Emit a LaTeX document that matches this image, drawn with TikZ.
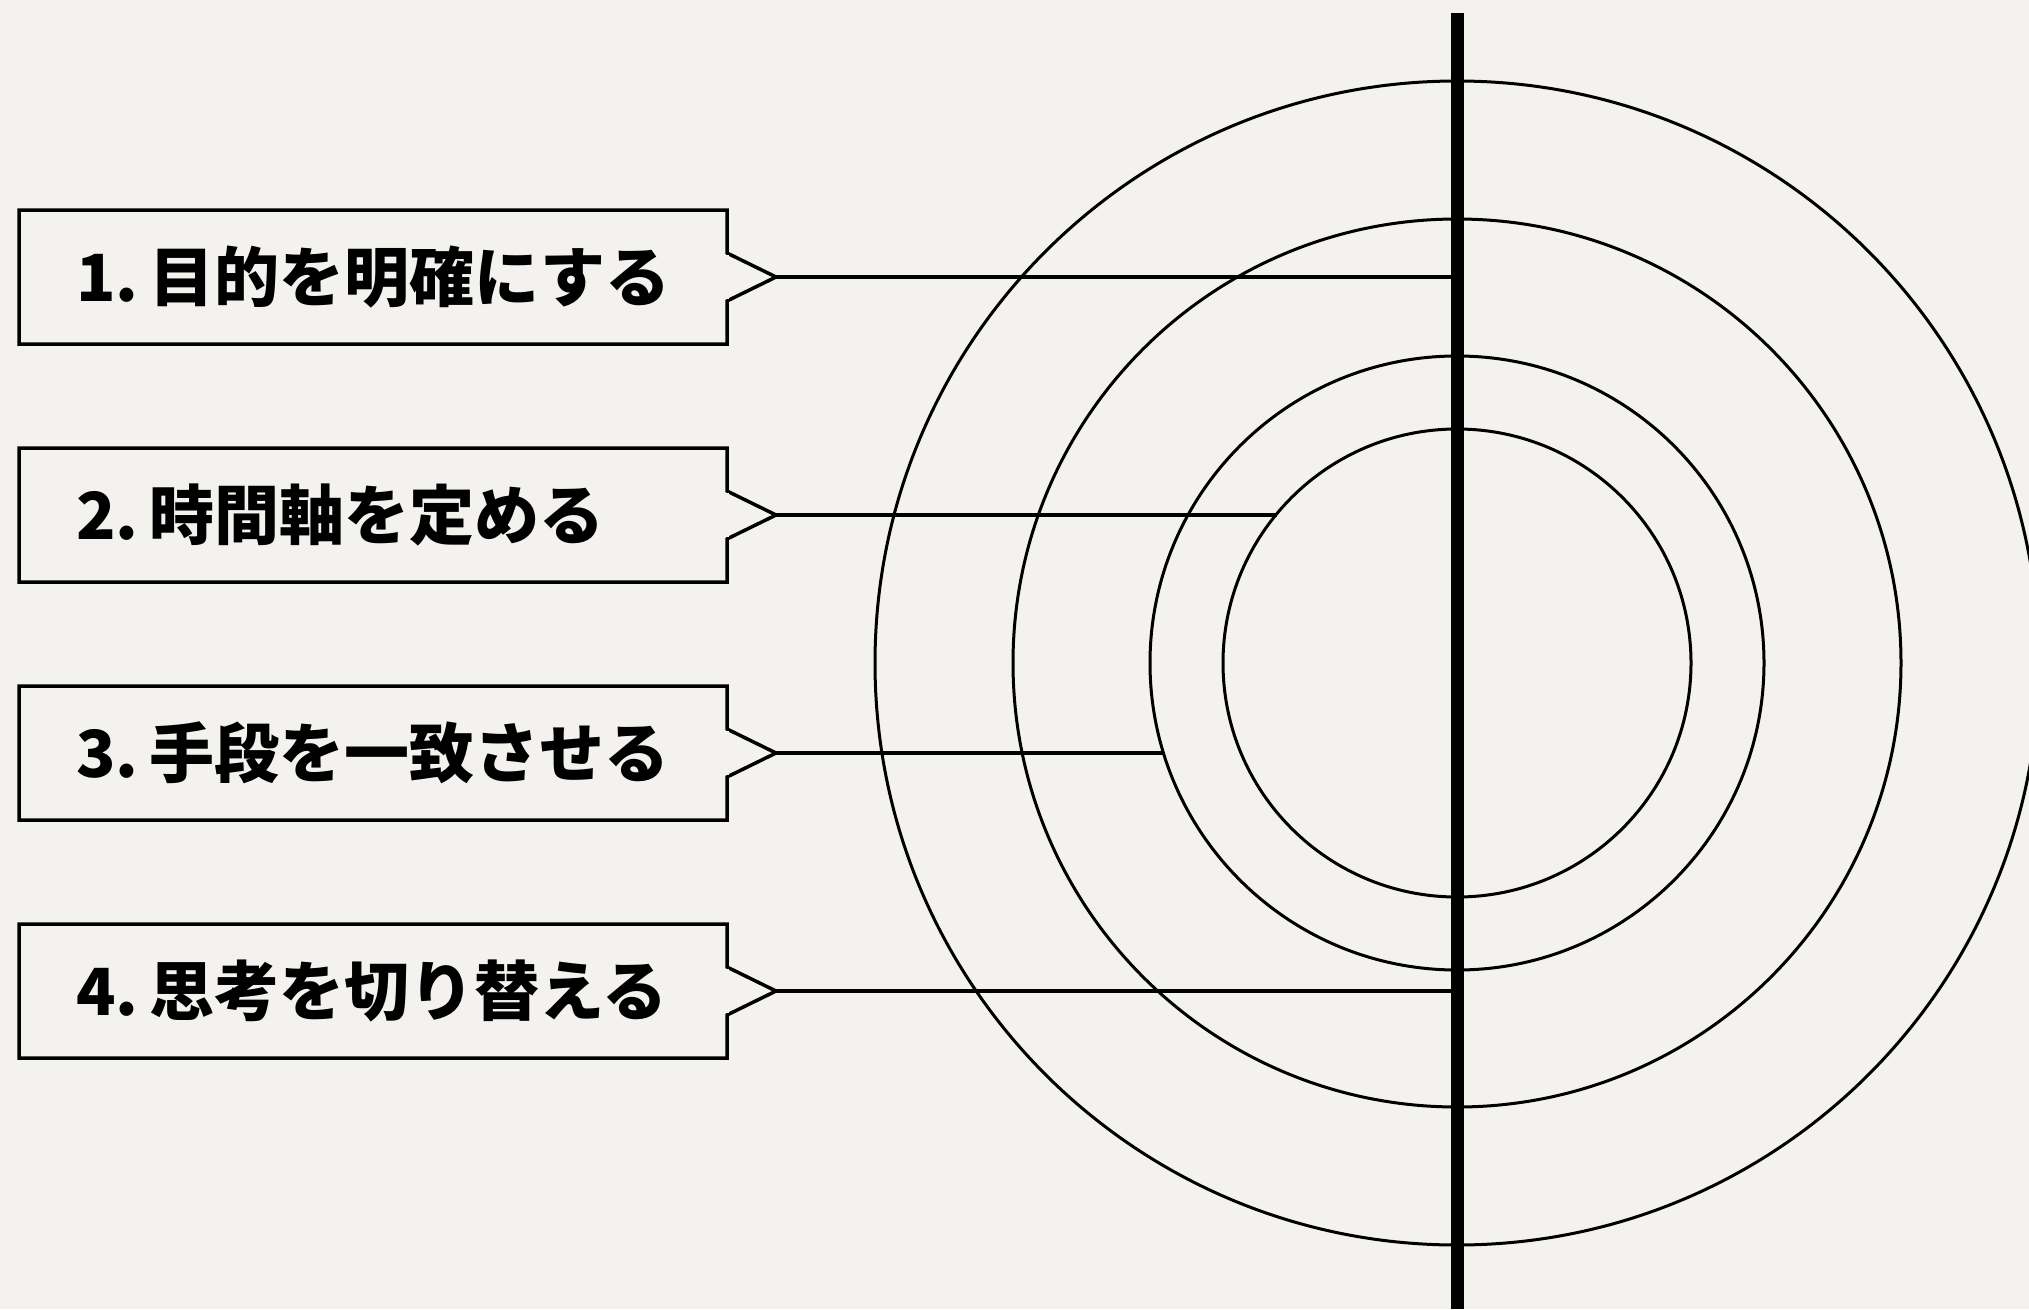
\documentclass[tikz,border=0pt]{standalone}
\usepackage{fontspec}
\newfontfamily\jp{Noto Sans CJK JP}
\usetikzlibrary{calc}
\definecolor{bg}{HTML}{F3F2EE}
\tikzset{
  boxframe/.style={draw=none, minimum width=708pt, minimum height=134pt, inner sep=0pt, outer sep=0pt},
  outline/.style={draw=black, line width=3.5pt, line join=miter},
  label/.style={anchor=west, inner sep=0pt, font=\jp\bfseries\fontsize{65}{70}\selectfont},
  ring/.style={circle, draw=black, line width=3pt, inner sep=0pt, outer sep=0pt},
  conn/.style={draw=black, line width=3.5pt},
}
\begin{document}
\begin{tikzpicture}[x=1pt,y=-1pt]
\useasboundingbox[fill=bg] (0,0) rectangle (2029,1309);
% rings
\node (c1) [ring, minimum size=1164pt] at (1457,663) {};
\node (c2) [ring, minimum size=888pt] at (1457,663) {};
\node (c3) [ring, minimum size=614pt] at (1457,663) {};
\node (c4) [ring, minimum size=468pt] at (1457,663) {};
% boxes
\foreach \i/\y/\n/\t in {1/277/1./{目的を明確にする},2/515/2./{時間軸を定める},3/753/3./{手段を一致させる},4/991/4./{思考を切り替える}}{
  \node (b\i) [boxframe] at (373,\y) {};
  \node (t\i) [label] at (76,\y) {\n\hspace{11pt}\t};
  \coordinate (tip\i) at ($(b\i.east)+(49,0)$);
  \draw[outline] ($(b\i.east)+(0,-24)$) -- (b\i.north east) -- (b\i.north west) -- (b\i.south west) -- (b\i.south east) -- ($(b\i.east)+(0,24)$) -- (tip\i) -- cycle;
}
% cover the closing segment of the notch
\foreach \i in {1,2,3,4}{
  \fill[bg] ($(b\i.east)+(-1.6,-22)$) rectangle ($(b\i.east)+(1.8,22)$);
}
% axis
\coordinate (axtop) at (1457,13);
\coordinate (axbot) at (1457,1309);
\coordinate (e1) at (1457,277);
\coordinate (e4) at (1457,991);
\coordinate (e2) at ($(c4.center)+(-179.6,-148)$);
\coordinate (e3) at ($(c3.center)+(-293.5,90)$);
% connectors
\draw[conn] (tip1) -- (e1);
\draw[conn] (tip2) -- (e2);
\draw[conn] (tip3) -- (e3);
\draw[conn] (tip4) -- (e4);
\draw[line width=13pt] (axtop) -- (axbot);
\end{tikzpicture}
\end{document}
